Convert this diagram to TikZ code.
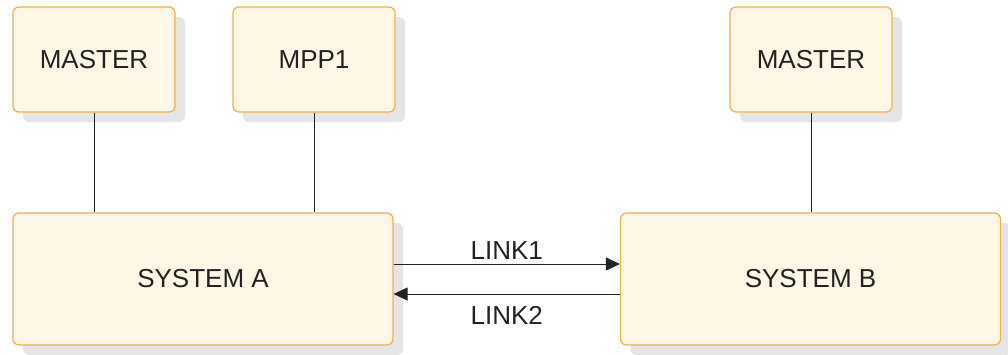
\documentclass[tikz,border=0pt]{standalone}
\usepackage{fontspec}
\setmainfont{Liberation Sans}
\usetikzlibrary{arrows.meta,positioning,shadows}
\definecolor{boxfill}{HTML}{FEF7E6}
\definecolor{boxline}{HTML}{F2B048}
\definecolor{shadowgray}{HTML}{E5E5E7}
\definecolor{inkgray}{HTML}{222222}
\tikzset{
  sysbox/.style={rectangle, rounded corners=6pt, draw=boxline, line width=1.2pt,
                 fill=boxfill, text=inkgray, font=\fontsize{26}{30}\selectfont,
                 align=center,
                 drop shadow={shadow xshift=10pt, shadow yshift=-10pt,
                              fill=shadowgray, opacity=1}},
  pgmbox/.style={sysbox, minimum width=162pt, minimum height=105pt},
  bigbox/.style={sysbox, minimum width=380pt, minimum height=132pt},
  conn/.style={draw=inkgray, line width=0.9pt},
  arrow/.style={conn, -{Triangle[length=14pt, width=13pt]}},
  lbl/.style={font=\fontsize{26}{30}\selectfont, text=inkgray, inner sep=4pt}
}
\begin{document}
\begin{tikzpicture}[x=1pt, y=1pt]
  \useasboundingbox (0,0) rectangle (1008,-354);
  \node[pgmbox] (mastera) at (94,-59.5) {MASTER};
  \node[pgmbox] (mpp) at (314,-59.5) {MPP1};
  \node[pgmbox] (masterb) at (811,-59.5) {MASTER};
  \node[bigbox] (sysa) at (203,-279) {SYSTEM A};
  \node[bigbox] (sysb) at (810.5,-279) {SYSTEM B};
  % program links
  \draw[conn] (mastera.south) -- (mastera.south |- sysa.north);
  \draw[conn] (mpp.south) -- (mpp.south |- sysa.north);
  \draw[conn] (masterb.south) -- (masterb.south |- sysb.north);
  % system links
  \draw[arrow] ([yshift=15pt]sysa.east) -- node[lbl, above] {LINK1} ([yshift=15pt]sysb.west);
  \draw[arrow] ([yshift=-15pt]sysb.west) -- node[lbl, below=8pt] {LINK2} ([yshift=-15pt]sysa.east);
\end{tikzpicture}
\end{document}
